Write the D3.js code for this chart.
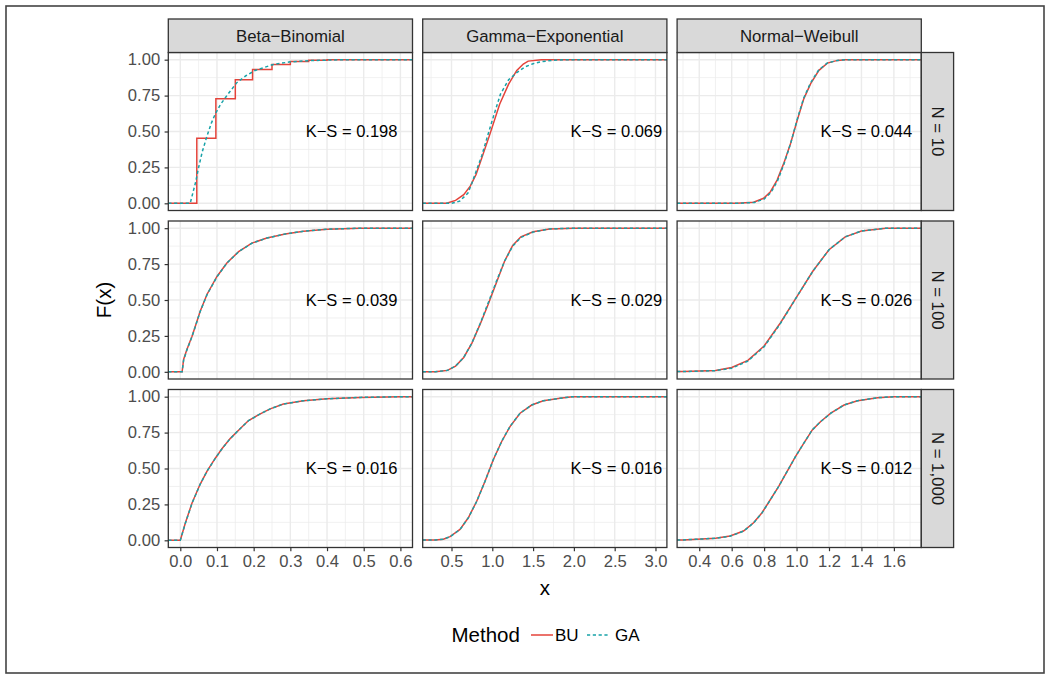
<!DOCTYPE html>
<html><head><meta charset="utf-8">
<script src="https://cdn.jsdelivr.net/npm/d3@7"></script>
<style>
body{margin:0;background:#fff}
svg{display:block;font-family:"Liberation Sans",Arial,Helvetica,sans-serif}
</style>
</head><body>
<svg id="chart" width="1050" height="678"></svg>
<script>
// ---------------- data ----------------
const columns = ["Beta\u2212Binomial", "Gamma\u2212Exponential", "Normal\u2212Weibull"];
const rows = ["N = 10", "N = 100", "N = 1,000"];
const methods = ["BU", "GA"];
const methodColors = ["#E4433A", "#17A2A8"];
const ksValues = [[0.198, 0.069, 0.044], [0.039, 0.029, 0.026], [0.016, 0.016, 0.012]];
const ksLabelX = [0.467, 2.52, 1.43];
const xLimits = [[-0.0327, 0.633], [0.147, 3.14], [0.2635, 1.769]];
const xTicks = [[0, 0.1, 0.2, 0.3, 0.4, 0.5, 0.6], [0.5, 1, 1.5, 2, 2.5, 3], [0.4, 0.6, 0.8, 1.0, 1.2, 1.4, 1.6]];
const xMinor = [[0.05, 0.15, 0.25, 0.35, 0.45, 0.55], [0.25, 0.75, 1.25, 1.75, 2.25, 2.75], [0.3, 0.5, 0.7, 0.9, 1.1, 1.3, 1.5, 1.7]];
const xTickFormat = [".1f", ".1f", ".1f"];
const yTicks = [0, 0.25, 0.5, 0.75, 1];
const yMinor = [0.125, 0.375, 0.625, 0.875];

// Beta-Binomial
const bb10BU = [[0, 0], [0.045, 0.453], [0.097, 0.728], [0.15, 0.86], [0.197, 0.932], [0.25, 0.967], [0.3, 0.988], [0.35, 0.996], [0.4, 1.0]];
const bb10GA = [[0.027, 0], [0.036, 0.09], [0.042, 0.15], [0.05, 0.25], [0.06, 0.36], [0.073, 0.47], [0.085, 0.56], [0.095, 0.62], [0.11, 0.69], [0.127, 0.75], [0.154, 0.84], [0.18, 0.89], [0.204, 0.925], [0.254, 0.967], [0.3, 0.985], [0.35, 0.993], [0.4, 0.997], [0.45, 1.0]];
const bb100BU = [[0.005, 0], [0.009, 0.086], [0.018, 0.155], [0.032, 0.247], [0.041, 0.317], [0.054, 0.42], [0.073, 0.54], [0.1, 0.664], [0.127, 0.757], [0.159, 0.837], [0.195, 0.896], [0.236, 0.931], [0.286, 0.96], [0.336, 0.979], [0.4, 0.993], [0.49, 1.0]];
const bb100GA = [[0.005, 0], [0.009, 0.08], [0.018, 0.152], [0.032, 0.245], [0.041, 0.315], [0.054, 0.418], [0.073, 0.538], [0.1, 0.662], [0.127, 0.757], [0.159, 0.836], [0.195, 0.895], [0.236, 0.931], [0.286, 0.96], [0.336, 0.979], [0.4, 0.993], [0.49, 1.0]];
const bb1000BU = [[0, 0], [0.014, 0.122], [0.032, 0.26], [0.054, 0.39], [0.073, 0.482], [0.095, 0.57], [0.114, 0.639], [0.136, 0.708], [0.163, 0.777], [0.186, 0.834], [0.218, 0.88], [0.245, 0.915], [0.281, 0.949], [0.336, 0.972], [0.4, 0.985], [0.49, 0.995], [0.6, 1.0]];
const bb1000GA = [[0, 0], [0.014, 0.12], [0.032, 0.258], [0.054, 0.389], [0.073, 0.482], [0.095, 0.569], [0.114, 0.638], [0.136, 0.708], [0.163, 0.777], [0.186, 0.833], [0.218, 0.88], [0.245, 0.915], [0.281, 0.949], [0.336, 0.972], [0.4, 0.985], [0.49, 0.995], [0.6, 1.0]];

// Gamma-Exponential
const ge10BU = [[0.44, 0], [0.55, 0.02], [0.65, 0.06], [0.73, 0.12], [0.8, 0.2], [0.85, 0.28], [0.97, 0.48], [1.09, 0.69], [1.2, 0.83], [1.3, 0.925], [1.38, 0.97], [1.44, 0.99], [1.6, 1.0]];
const ge10GA = [[0.5, 0], [0.6, 0.015], [0.7, 0.07], [0.75, 0.14], [0.8, 0.22], [0.87, 0.33], [0.99, 0.56], [1.1, 0.76], [1.2, 0.86], [1.3, 0.91], [1.4, 0.95], [1.5, 0.972], [1.6, 0.986], [1.74, 0.996], [1.9, 1.0]];
const ge100BU = [[0.3, 0], [0.45, 0.01], [0.55, 0.04], [0.65, 0.1], [0.75, 0.2], [0.85, 0.33], [0.95, 0.47], [1.05, 0.62], [1.15, 0.77], [1.25, 0.88], [1.35, 0.94], [1.5, 0.975], [1.7, 0.995], [2.0, 1.0]];
const ge100GA = [[0.3, 0], [0.45, 0.01], [0.55, 0.04], [0.65, 0.1], [0.75, 0.2], [0.85, 0.335], [0.95, 0.48], [1.05, 0.63], [1.15, 0.77], [1.25, 0.875], [1.35, 0.935], [1.5, 0.973], [1.7, 0.995], [2.0, 1.0]];
const ge1000BU = [[0.3, 0.003], [0.4, 0.008], [0.482, 0.026], [0.604, 0.076], [0.706, 0.157], [0.809, 0.272], [0.91, 0.41], [1.012, 0.561], [1.115, 0.688], [1.217, 0.792], [1.34, 0.885], [1.483, 0.942], [1.625, 0.972], [1.83, 0.989], [1.98, 1.0]];
const ge1000GA = [[0.3, 0.003], [0.4, 0.008], [0.482, 0.025], [0.604, 0.075], [0.706, 0.156], [0.809, 0.271], [0.91, 0.41], [1.012, 0.561], [1.115, 0.689], [1.217, 0.793], [1.34, 0.885], [1.483, 0.942], [1.625, 0.972], [1.83, 0.989], [1.98, 1.0]];

// Normal-Weibull
const nw10BU = [[0.632, 0], [0.735, 0.007], [0.797, 0.035], [0.839, 0.081], [0.88, 0.162], [0.921, 0.278], [0.963, 0.417], [1.004, 0.578], [1.045, 0.729], [1.087, 0.833], [1.138, 0.926], [1.19, 0.976], [1.252, 0.995], [1.3, 1.0]];
const nw10GA = [[0.64, 0], [0.74, 0.006], [0.8, 0.03], [0.842, 0.075], [0.882, 0.155], [0.922, 0.272], [0.963, 0.415], [1.003, 0.58], [1.043, 0.73], [1.085, 0.836], [1.136, 0.928], [1.19, 0.977], [1.252, 0.995], [1.3, 1.0]];
const nw100BU = [[0.3, 0.002], [0.5, 0.01], [0.6, 0.03], [0.7, 0.08], [0.8, 0.18], [0.9, 0.34], [1.0, 0.52], [1.1, 0.7], [1.2, 0.85], [1.3, 0.94], [1.4, 0.98], [1.55, 1.0]];
const nw100GA = [[0.3, 0.002], [0.5, 0.008], [0.6, 0.025], [0.7, 0.075], [0.8, 0.175], [0.9, 0.335], [1.0, 0.52], [1.1, 0.7], [1.2, 0.85], [1.3, 0.94], [1.4, 0.98], [1.55, 1.0]];
const nw1000BU = [[0.3, 0.003], [0.5, 0.015], [0.59, 0.03], [0.673, 0.065], [0.735, 0.122], [0.787, 0.192], [0.839, 0.284], [0.89, 0.376], [0.942, 0.48], [0.994, 0.584], [1.045, 0.677], [1.097, 0.769], [1.149, 0.827], [1.211, 0.885], [1.293, 0.942], [1.376, 0.972], [1.5, 0.993], [1.6, 1.0]];
const nw1000GA = [[0.3, 0.003], [0.5, 0.014], [0.59, 0.029], [0.673, 0.064], [0.735, 0.121], [0.787, 0.191], [0.839, 0.283], [0.89, 0.376], [0.942, 0.48], [0.994, 0.584], [1.045, 0.677], [1.097, 0.769], [1.149, 0.827], [1.211, 0.885], [1.293, 0.942], [1.376, 0.972], [1.5, 0.993], [1.6, 1.0]];

const panelSeries = [
  [[bb10BU, bb10GA], [ge10BU, ge10GA], [nw10BU, nw10GA]],
  [[bb100BU, bb100GA], [ge100BU, ge100GA], [nw100BU, nw100GA]],
  [[bb1000BU, bb1000GA], [ge1000BU, ge1000GA], [nw1000BU, nw1000GA]]
];
const stepSeries = [[["step", "line"], ["line", "line"], ["line", "line"]],
                    [["line", "line"], ["line", "line"], ["line", "line"]],
                    [["line", "line"], ["line", "line"], ["line", "line"]]];

// ---------------- layout ----------------
const svg = d3.select("#chart");
const L = 168.3, W = 244.2, GX = 10.2;
const T = 52.5, H = 158, GY = 10.5;
const stripH = 33.5, stripW = 32.3;
const dark = "#333333", gridCol = "#EBEBEB";

svg.append("rect").attr("x", 6).attr("y", 6).attr("width", 1038).attr("height", 667)
  .attr("fill", "#fff").attr("stroke", "#444").attr("stroke-width", 1.6);

const yScales = rows.map((r, i) => d3.scaleLinear().domain([-0.05, 1.05]).range([T + i * (H + GY) + H, T + i * (H + GY)]));
const xScales = columns.map((c, j) => d3.scaleLinear().domain(xLimits[j]).range([L + j * (W + GX), L + j * (W + GX) + W]));

const defs = svg.append("defs");

rows.forEach((rName, i) => {
  columns.forEach((cName, j) => {
    const xs = xScales[j], ys = yScales[i];
    const x0 = xs.range()[0], y0 = ys.range()[1];
    const g = svg.append("g");
    g.append("rect").attr("x", x0).attr("y", y0).attr("width", W).attr("height", H).attr("fill", "#fff");
    // minor grid
    g.selectAll(null).data(xMinor[j]).enter().append("line")
      .attr("x1", d => xs(d)).attr("x2", d => xs(d)).attr("y1", y0).attr("y2", y0 + H)
      .attr("stroke", gridCol).attr("stroke-width", 0.7);
    g.selectAll(null).data(yMinor).enter().append("line")
      .attr("y1", d => ys(d)).attr("y2", d => ys(d)).attr("x1", x0).attr("x2", x0 + W)
      .attr("stroke", gridCol).attr("stroke-width", 0.7);
    // major grid
    g.selectAll(null).data(xTicks[j]).enter().append("line")
      .attr("x1", d => xs(d)).attr("x2", d => xs(d)).attr("y1", y0).attr("y2", y0 + H)
      .attr("stroke", gridCol).attr("stroke-width", 1.4);
    g.selectAll(null).data(yTicks).enter().append("line")
      .attr("y1", d => ys(d)).attr("y2", d => ys(d)).attr("x1", x0).attr("x2", x0 + W)
      .attr("stroke", gridCol).attr("stroke-width", 1.4);

    const cid = `clip-${i}-${j}`;
    defs.append("clipPath").attr("id", cid).append("rect").attr("x", x0).attr("y", y0).attr("width", W).attr("height", H);
    const lg = g.append("g").attr("clip-path", `url(#${cid})`);
    methods.forEach((m, k) => {
      const data = panelSeries[i][j][k];
      const pts = [[xLimits[j][0], data[0][1]], ...data, [xLimits[j][1], data[data.length - 1][1]]];
      const line = d3.line().x(d => xs(d[0])).y(d => ys(d[1]))
        .curve(stepSeries[i][j][k] === "step" ? d3.curveStepAfter : d3.curveLinear);
      lg.append("path").attr("d", line(pts)).attr("fill", "none")
        .attr("stroke", methodColors[k]).attr("stroke-width", 1.5)
        .attr("stroke-dasharray", k === 1 ? "3.2,2.6" : null);
    });
    // K-S label
    g.append("text").attr("x", xs(ksLabelX[j])).attr("y", ys(0.5)).attr("dy", "0.35em")
      .attr("text-anchor", "middle").attr("font-size", 16.5).attr("fill", "#000")
      .text(`K\u2212S = ${d3.format(".3f")(ksValues[i][j])}`);
    // border
    g.append("rect").attr("x", x0).attr("y", y0).attr("width", W).attr("height", H)
      .attr("fill", "none").attr("stroke", dark).attr("stroke-width", 1.3);

    // left axis
    if (j === 0) {
      const ax = g.append("g").attr("transform", `translate(${x0},0)`)
        .call(d3.axisLeft(ys).tickValues(yTicks).tickFormat(d3.format(".2f")).tickSize(3.7).tickPadding(4.5));
      ax.select(".domain").remove();
      ax.selectAll(".tick line").attr("stroke", dark).attr("stroke-width", 1.2);
      ax.selectAll(".tick text").attr("font-size", 16.6).attr("fill", "#4D4D4D").attr("font-family", null);
    }
    // bottom axis
    if (i === rows.length - 1) {
      const ax = g.append("g").attr("transform", `translate(0,${y0 + H})`)
        .call(d3.axisBottom(xs).tickValues(xTicks[j]).tickFormat(d3.format(xTickFormat[j])).tickSize(3.7).tickPadding(4));
      ax.select(".domain").remove();
      ax.selectAll(".tick line").attr("stroke", dark).attr("stroke-width", 1.2);
      ax.selectAll(".tick text").attr("font-size", 16.6).attr("fill", "#4D4D4D").attr("font-family", null);
    }
  });
});

// top strips
columns.forEach((cName, j) => {
  const x0 = xScales[j].range()[0];
  svg.append("rect").attr("x", x0).attr("y", T - stripH).attr("width", W).attr("height", stripH)
    .attr("fill", "#D9D9D9").attr("stroke", dark).attr("stroke-width", 1.3);
  svg.append("text").attr("x", x0 + W / 2).attr("y", T - stripH / 2).attr("dy", "0.35em")
    .attr("text-anchor", "middle").attr("font-size", 16.8).attr("fill", "#1A1A1A").text(cName);
});
// right strips
rows.forEach((rName, i) => {
  const y0 = yScales[i].range()[1];
  const x0 = L + 3 * W + 2 * GX;
  svg.append("rect").attr("x", x0).attr("y", y0).attr("width", stripW).attr("height", H)
    .attr("fill", "#D9D9D9").attr("stroke", dark).attr("stroke-width", 1.3);
  svg.append("text").attr("transform", `translate(${x0 + stripW / 2},${y0 + H / 2}) rotate(90)`)
    .attr("dy", "0.35em").attr("text-anchor", "middle").attr("font-size", 16.8).attr("fill", "#1A1A1A").text(rName);
});

// axis titles
const midX = (L + L + 3 * W + 2 * GX) / 2;
const midY = (T + T + 3 * H + 2 * GY) / 2;
svg.append("text").attr("x", midX).attr("y", 595).attr("text-anchor", "middle")
  .attr("font-size", 20.5).attr("fill", "#000").text("x");
svg.append("text").attr("transform", `translate(110.5,${midY}) rotate(-90)`).attr("text-anchor", "middle")
  .attr("font-size", 20.5).attr("fill", "#000").text("F(x)");

// legend
const lgd = svg.append("g");
lgd.append("text").attr("x", 451.5).attr("y", 641.7).attr("font-size", 20.5).attr("fill", "#000").text("Method");
const keyX = [531, 587], labX = [555, 615];
methods.forEach((m, k) => {
  lgd.append("line").attr("x1", keyX[k]).attr("x2", keyX[k] + 22).attr("y1", 635).attr("y2", 635)
    .attr("stroke", methodColors[k]).attr("stroke-width", 1.5)
    .attr("stroke-dasharray", k === 1 ? "3.2,2.6" : null);
  lgd.append("text").attr("x", labX[k]).attr("y", 640.7).attr("font-size", 17).attr("fill", "#000").text(m);
});
</script>
</body></html>
